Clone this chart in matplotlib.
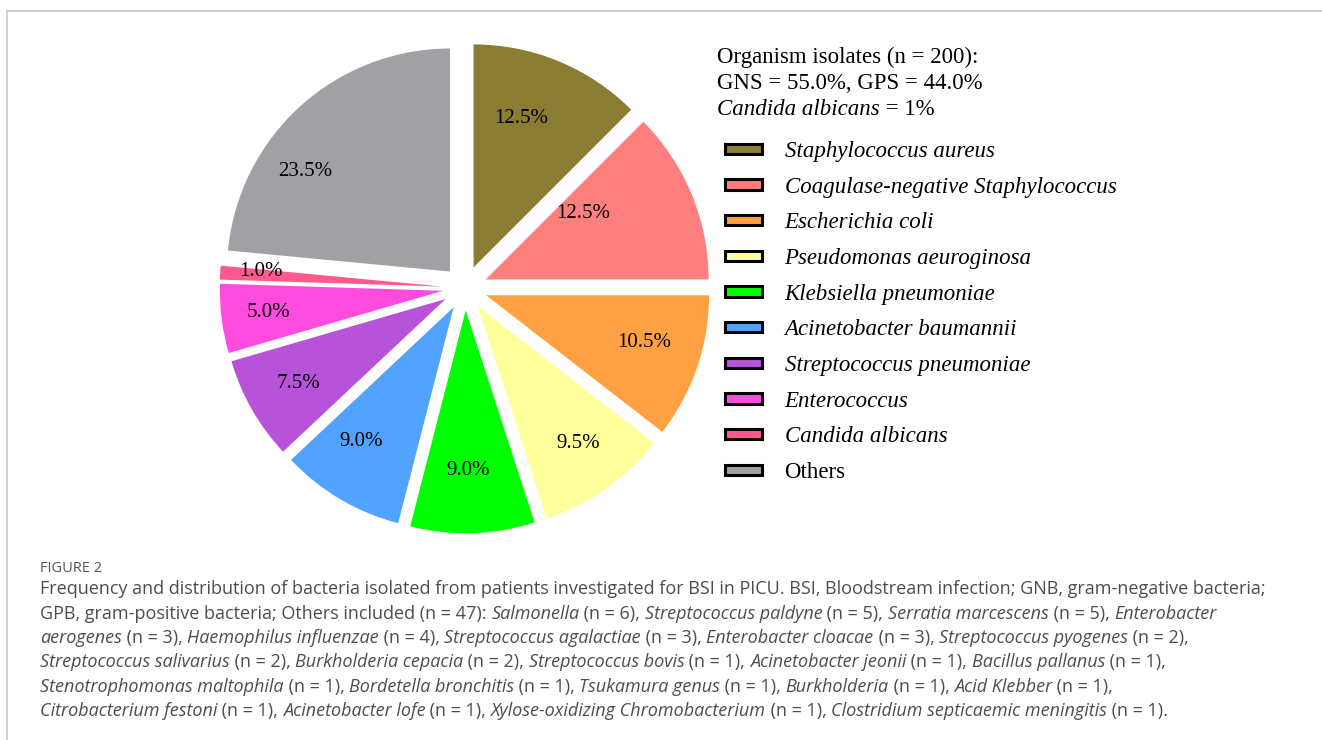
import matplotlib.pyplot as plt
import numpy as np
from matplotlib.patches import Patch
from matplotlib.lines import Line2D

# data
organisms = ['Staphylococcus aureus', 'Coagulase-negative Staphylococcus', 'Escherichia coli',
             'Pseudomonas aeuroginosa', 'Klebsiella pneumoniae', 'Acinetobacter baumannii',
             'Streptococcus pneumoniae', 'Enterococcus', 'Candida albicans', 'Others']
shares = [12.5, 12.5, 10.5, 9.5, 9.0, 9.0, 7.5, 5.0, 1.0, 23.5]
colours = ['#8b7c34', '#ff7f7f', '#ffa042', '#ffff9c', '#00ff00', '#52a2ff',
           '#b753d9', '#ff4bde', '#ff5a8c', '#a1a0a5']
n_total = 200
gns_pct = 55.0
gps_pct = 44.0
candida_pct = 1

# label placement tweaks (radius fraction, angle shift in degrees)
lbl_r = [0.70, 0.53, 0.74, 0.76, 0.72, 0.73, 0.76, 0.79, 0.82, 0.79]
lbl_dang = [4.6, 11.5, 2.4, 1.1, -1.0, -4.0, 0.0, 0.0, -1.0, 13.2]

caption_lines = [
    "Frequency and distribution of bacteria isolated from patients investigated for BSI in PICU. BSI, Bloodstream infection; GNB, gram-negative bacteria;",
    "GPB, gram-positive bacteria; Others included (n = 47): *Salmonella* (n = 6), *Streptococcus paldyne* (n = 5), *Serratia marcescens* (n = 5), *Enterobacter*",
    "*aerogenes* (n = 3), *Haemophilus influenzae* (n = 4), *Streptococcus agalactiae* (n = 3), *Enterobacter cloacae* (n = 3), *Streptococcus pyogenes* (n = 2),",
    "*Streptococcus salivarius* (n = 2), *Burkholderia cepacia* (n = 2), *Streptococcus bovis* (n = 1), *Acinetobacter jeonii* (n = 1), *Bacillus pallanus* (n = 1),",
    "*Stenotrophomonas maltophila* (n = 1), *Bordetella bronchitis* (n = 1), *Tsukamura genus* (n = 1), *Burkholderia* (n = 1), *Acid Klebber* (n = 1),",
    "*Citrobacterium festoni* (n = 1), *Acinetobacter lofe* (n = 1), *Xylose-oxidizing Chromobacterium* (n = 1), *Clostridium septicaemic meningitis* (n = 1).",
]

W, H = 1322, 740
fig = plt.figure(figsize=(W / 100, H / 100), dpi=100)
fig.patch.set_facecolor('white')
renderer = fig.canvas.get_renderer()

# frame lines
fig.add_artist(Line2D([7 / W, 1], [1 - 11 / H, 1 - 11 / H], color='#c8c8c8', lw=1.2))
fig.add_artist(Line2D([7 / W, 7 / W], [0, 1 - 11 / H], color='#c8c8c8', lw=1.2))

# pie
side = 557.5
cx, cy = 465, 288
ax = fig.add_axes([(cx - side / 2) / W, (H - cy - side / 2) / H, side / W, side / H])
wedges, _ = ax.pie(shares, colors=colours, explode=[0.1] * len(shares), startangle=90,
                   counterclock=False, radius=1, wedgeprops=dict(linewidth=0))
ax.set_xlim(-1.25, 1.25)
ax.set_ylim(-1.25, 1.25)
ax.set_aspect('equal')
ax.axis('off')

for w, val, rr, da in zip(wedges, shares, lbl_r, lbl_dang):
    ang = np.deg2rad((w.theta1 + w.theta2) / 2 + da)
    x0, y0 = w.center
    ax.text(x0 + rr * w.r * np.cos(ang), y0 + rr * w.r * np.sin(ang), f'{val:.1f}%',
            ha='center', va='center', fontsize=15, family='Liberation Serif', color='black')


def text_width(s, **kw):
    t = fig.text(0, 0, '|' + s + '|', **kw)
    w1 = t.get_window_extent(renderer).width
    t.set_text('||')
    w2 = t.get_window_extent(renderer).width
    t.remove()
    return w1 - w2


def draw_runs(x, y, runs, **kw):
    for s, it in runs:
        style = 'italic' if it else 'normal'
        fig.text(x / W, 1 - y / H, s, style=style, va='baseline', ha='left', **kw)
        x += text_width(s, style=style, **kw)


def parse(line):
    parts = line.split('*')
    return [(p, i % 2 == 1) for i, p in enumerate(parts) if p]


# legend title block
serif = dict(family='Liberation Serif', fontsize=16.5, color='black')
fig.text(717 / W, 1 - 63 / H, f'Organism isolates (n = {n_total}):', va='baseline', **serif)
fig.text(717 / W, 1 - 89 / H, f'GNS = {gns_pct:.1f}%, GPS = {gps_pct:.1f}%', va='baseline', **serif)
draw_runs(717, 115, [('Candida albicans', True), (f' = {candida_pct}%', False)], **serif)

handles = [Patch(facecolor=c, edgecolor='black', linewidth=2.2) for c in colours]
leg = fig.legend(handles, organisms, loc='upper left', bbox_to_anchor=(725 / W, 1 - 141 / H),
                 frameon=False, prop=dict(family='Liberation Serif', style='italic', size=16.5),
                 handlelength=1.6, handleheight=0.32, handletextpad=1.0, labelspacing=0.64,
                 borderpad=0, borderaxespad=0)
leg.get_texts()[-1].set_style('normal')

# caption
fig.text(40 / W, 1 - 571.5 / H, 'FIGURE 2', family='Open Sans', fontsize=10.5, color='#555555',
         va='baseline')
cap = dict(family='Open Sans', fontsize=13, color='#4d4d4d')
for i, line in enumerate(caption_lines):
    draw_runs(40, 594.5 + i * 24.3, parse(line), **cap)

fig.savefig('out.png', dpi=100, facecolor='white')
